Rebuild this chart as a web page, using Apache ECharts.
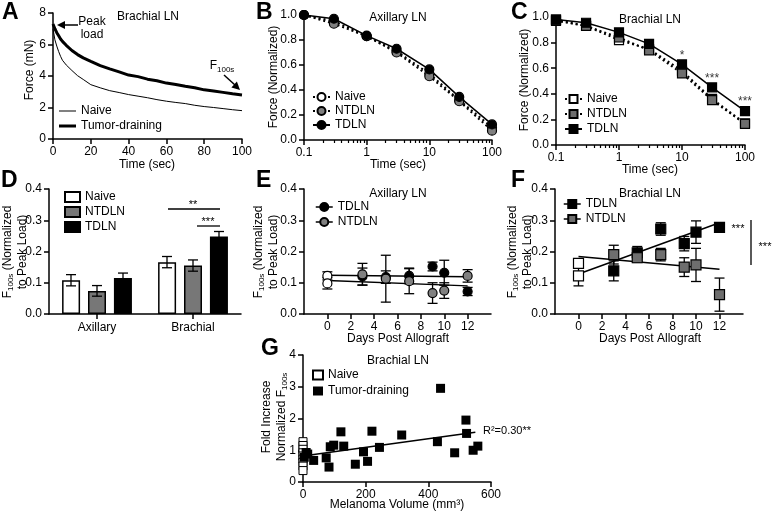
<!DOCTYPE html>
<html>
<head>
<meta charset="utf-8">
<script src="https://cdn.jsdelivr.net/npm/echarts@6/dist/echarts.min.js"></script>
<style>
  html, body { margin: 0; padding: 0; background: #fff; }
  #chart { width: 773px; height: 512px; }
</style>
</head>
<body>
<div id="chart"></div>
<script>
const FONT = '"Liberation Sans", Arial, Helvetica, sans-serif';

// A: raw force relaxation (mN)
const timeA = [0, 1, 2, 3, 4, 5, 7, 10, 13, 16, 20, 25, 30, 35, 40, 45, 50, 55, 60, 65, 70, 75, 80, 85, 90, 95, 100];
const naiveA = [7.0, 6.3, 5.9, 5.55, 5.25, 5.0, 4.7, 4.35, 4.02, 3.78, 3.45, 3.25, 3.07, 2.95, 2.82, 2.72, 2.62, 2.5, 2.4, 2.32, 2.25, 2.14, 2.06, 2.0, 1.93, 1.86, 1.8];
const tumorA = [7.3, 7.0, 6.75, 6.55, 6.35, 6.2, 5.95, 5.62, 5.36, 5.15, 4.93, 4.66, 4.45, 4.26, 4.06, 3.96, 3.8, 3.7, 3.55, 3.46, 3.35, 3.25, 3.12, 3.05, 2.96, 2.87, 2.8];

// B / C: normalized force vs time (log)
const timesBC = [0.1, 0.3, 1, 3, 10, 30, 100];
const minorLogTicks = [0.2, 0.3, 0.4, 0.5, 0.6, 0.7, 0.8, 0.9, 2, 3, 4, 5, 6, 7, 8, 9, 20, 30, 40, 50, 60, 70, 80, 90];
const naiveB = [1.0, 0.95, 0.83, 0.71, 0.53, 0.32, 0.1];
const ntdlnB = [1.0, 0.93, 0.83, 0.7, 0.51, 0.31, 0.075];
const tdlnB = [1.0, 0.97, 0.835, 0.73, 0.565, 0.345, 0.125];
const naiveC = [0.97, 0.93, 0.82, 0.75, 0.58, 0.36, 0.17];
const ntdlnC = [0.98, 0.93, 0.84, 0.74, 0.56, 0.35, 0.165];
const tdlnC = [0.98, 0.955, 0.88, 0.79, 0.63, 0.45, 0.265];
const starsC = ['*', '***', '***'];
const starTimesC = [10, 30, 100];
const starLevelsC = [0.7, 0.52, 0.34];

// D: F100s bars
const categoriesD = ['Axillary', 'Brachial'];
const naiveD = [0.108, 0.166];
const naiveErrD = [0.018, 0.018];
const ntdlnD = [0.074, 0.155];
const ntdlnErrD = [0.017, 0.018];
const tdlnD = [0.115, 0.248];
const tdlnErrD = [0.016, 0.016];

// E / F: F100s vs days post allograft
const dayTicks = [0, 2, 4, 6, 8, 10, 12];
const daysEF = [3, 5, 7, 9, 10, 12];
const naiveDays = [0, 0];
const fitDays = [0, 12];
const tdlnE = [0.12, 0.118, 0.122, 0.152, 0.132, 0.072];
const tdlnErrE = [0.027, 0.02, 0.025, 0.014, 0.04, 0.013];
const ntdlnE = [0.127, 0.113, 0.105, 0.067, 0.075, 0.122];
const ntdlnErrE = [0.035, 0.075, 0.04, 0.033, 0.025, 0.02];
const naiveE = [0.122, 0.098];
const naiveErrE = [0.013, 0.018];
const tdlnFitE = [0.124, 0.119];
const ntdlnFitE = [0.107, 0.09];

const tdlnF = [0.138, 0.196, 0.272, 0.225, 0.262, 0.277];
const tdlnErrF = [0.032, 0.02, 0.02, 0.023, 0.036, 0.015];
const ntdlnF = [0.19, 0.18, 0.19, 0.15, 0.157, 0.062];
const ntdlnErrF = [0.03, 0.015, 0.02, 0.03, 0.053, 0.053];
const naiveF = [0.162, 0.122];
const naiveErrF = [0.01, 0.032];
const tdlnFitF = [0.128, 0.292];
const ntdlnFitF = [0.184, 0.143];

// G: fold increase vs melanoma volume
const naiveFoldG = [1.27, 1.15, 1.03, 0.92, 0.82, 0.72, 0.62, 0.5, 0.36];
const tumorVolG = [4, 10, 15, 34, 74, 83, 87, 98, 121, 130, 167, 193, 206, 220, 244, 315, 429, 439, 484, 520, 522, 543, 558];
const tumorFoldG = [0.78, 0.93, 0.88, 0.68, 0.76, 0.47, 1.11, 1.16, 1.58, 1.13, 0.56, 0.95, 0.65, 1.6, 1.09, 1.48, 1.27, 2.95, 0.92, 1.95, 1.53, 1.0, 1.13];
const fitVolG = [0, 550];
const fitFoldG = [0.82, 1.57];

const zip = (xs, ys) => xs.map((x, i) => [x, ys[i]]);
const zip3 = (xs, ys, es) => xs.map((x, i) => [x, ys[i], es[i]]);

const black = '#000';
const lineW = { color: black, width: 1.5 };

function axis(gridIndex, extra) {
  return Object.assign({
    gridIndex,
    axisLine: { show: true, onZero: false, lineStyle: lineW },
    axisTick: { show: true, inside: false, length: 5, lineStyle: lineW },
    axisLabel: { color: black, fontSize: 12, fontFamily: FONT, margin: 7 },
    splitLine: { show: false }
  }, extra);
}

function errorBars(offset, cap) {
  return function (params, api) {
    const x = api.value(0), y = api.value(1), e = api.value(2);
    const top = api.coord([x, y + e]);
    const bot = api.coord([x, y - e]);
    const cx = top[0] + offset;
    const st = { stroke: black, lineWidth: 1.3 };
    return {
      type: 'group',
      children: [
        { type: 'line', shape: { x1: cx, y1: top[1], x2: cx, y2: bot[1] }, style: st },
        { type: 'line', shape: { x1: cx - cap / 2, y1: top[1], x2: cx + cap / 2, y2: top[1] }, style: st },
        { type: 'line', shape: { x1: cx - cap / 2, y1: bot[1], x2: cx + cap / 2, y2: bot[1] }, style: st }
      ]
    };
  };
}

function errSeries(name, x, y, data, offset, cap) {
  return { name, type: 'custom', xAxisIndex: x, yAxisIndex: y, silent: true, z: 1,
    renderItem: errorBars(offset, cap), data };
}

function fitLine(name, x, y, data) {
  return { name, type: 'line', xAxisIndex: x, yAxisIndex: y, data, symbol: 'none', silent: true, z: 2,
    itemStyle: { color: black }, lineStyle: { color: black, width: 1.5 } };
}

function points(name, x, y, data, symbol, size, fill, extra) {
  return Object.assign({ name, type: 'line', xAxisIndex: x, yAxisIndex: y, data, symbol, symbolSize: size,
    showSymbol: true, z: 3,
    itemStyle: { color: fill, borderColor: black, borderWidth: 1.2, opacity: 1 },
    lineStyle: { color: black, width: 1.5, opacity: 0 } }, extra);
}

const rich = {
  n: { fontSize: 12, fontFamily: FONT, lineHeight: 15, color: black },
  s: { fontSize: 8, fontFamily: FONT, lineHeight: 8, verticalAlign: 'bottom', color: black }
};

function text(x, y, str, opts) {
  return Object.assign({ type: 'text', x, y, silent: true,
    style: Object.assign({ text: str, fill: black, font: '12px ' + FONT, align: 'center', verticalAlign: 'middle' },
      opts && opts.style) }, opts && opts.el);
}

function vtext(x, y, str) {
  return { type: 'text', x, y, rotation: Math.PI / 2, silent: true,
    style: { text: str, rich, fill: black, align: 'center', verticalAlign: 'middle' } };
}

const letters = [['A', 2, 1], ['B', 256, 1], ['C', 511, 1], ['D', 1, 169], ['E', 256, 169], ['F', 511, 169], ['G', 261, 337]]
  .map(([l, x, y]) => text(x, y, l, { style: { font: 'bold 23px ' + FONT, align: 'left', verticalAlign: 'top' } }));

const legendBase = {
  orient: 'vertical', selectedMode: false, itemWidth: 17, itemHeight: 10, itemGap: 1, padding: 0,
  textStyle: { color: black, fontSize: 12, fontFamily: FONT, lineHeight: 14 },
  formatter: n => n.slice(2)
};
const legendLine = { width: 1.5, color: black, opacity: 1, type: 'solid' };

const option = {
  animation: false,
  backgroundColor: '#fff',
  textStyle: { fontFamily: FONT, color: black },
  grid: [
    { left: 53, top: 13, width: 189, height: 126, outerBoundsMode: 'none' },
    { left: 304, top: 15, width: 188, height: 125, outerBoundsMode: 'none' },
    { left: 556, top: 17, width: 189, height: 128, outerBoundsMode: 'none' },
    { left: 49, top: 189, width: 192, height: 125, outerBoundsMode: 'none' },
    { left: 304, top: 189, width: 187, height: 125, outerBoundsMode: 'none' },
    { left: 555, top: 189, width: 188, height: 125, outerBoundsMode: 'none' },
    { left: 303, top: 355, width: 188, height: 127, outerBoundsMode: 'none' }
  ],
  xAxis: [
    axis(0, { type: 'value', min: 0, max: 100, interval: 20 }),
    axis(1, { type: 'log', logBase: 10, min: 0.1, max: 100, position: 'bottom' }),
    axis(1, { type: 'log', logBase: 10, min: 0.1, max: 100, position: 'bottom',
      axisLine: { show: false }, axisLabel: { show: false },
      axisTick: { show: true, length: 3, lineStyle: { color: black, width: 1.2 }, customValues: minorLogTicks } }),
    axis(2, { type: 'log', logBase: 10, min: 0.1, max: 100, position: 'bottom' }),
    axis(2, { type: 'log', logBase: 10, min: 0.1, max: 100, position: 'bottom',
      axisLine: { show: false }, axisLabel: { show: false },
      axisTick: { show: true, length: 3, lineStyle: { color: black, width: 1.2 }, customValues: minorLogTicks } }),
    axis(3, { type: 'category', data: categoriesD,
      axisTick: { show: true, alignWithLabel: true, length: 5, lineStyle: lineW },
      axisLabel: { color: black, fontSize: 12, fontFamily: FONT, margin: 8 } }),
    axis(4, { type: 'value', min: -2, max: 14, interval: 2,
      axisTick: { show: true, length: 5, lineStyle: lineW, customValues: dayTicks },
      axisLabel: { color: black, fontSize: 12, fontFamily: FONT, margin: 7, customValues: dayTicks,
        formatter: v => (v < 0 || v > 12) ? '' : String(v) } }),
    axis(5, { type: 'value', min: -2, max: 14, interval: 2,
      axisTick: { show: true, length: 5, lineStyle: lineW, customValues: dayTicks },
      axisLabel: { color: black, fontSize: 12, fontFamily: FONT, margin: 7, customValues: dayTicks,
        formatter: v => (v < 0 || v > 12) ? '' : String(v) } }),
    axis(6, { type: 'value', min: 0, max: 600, interval: 200 })
  ],
  yAxis: [
    axis(0, { type: 'value', min: 0, max: 8, interval: 2 }),
    axis(1, { type: 'value', min: 0, max: 1, interval: 0.2, axisLabel: { color: black, fontSize: 12, fontFamily: FONT, margin: 7, formatter: v => v.toFixed(1) } }),
    axis(2, { type: 'value', min: 0, max: 1, interval: 0.2, axisLabel: { color: black, fontSize: 12, fontFamily: FONT, margin: 7, formatter: v => v.toFixed(1) } }),
    axis(3, { type: 'value', min: 0, max: 0.4, interval: 0.1, axisLabel: { color: black, fontSize: 12, fontFamily: FONT, margin: 7, formatter: v => v.toFixed(1) } }),
    axis(4, { type: 'value', min: 0, max: 0.4, interval: 0.1, axisLabel: { color: black, fontSize: 12, fontFamily: FONT, margin: 7, formatter: v => v.toFixed(1) } }),
    axis(5, { type: 'value', min: 0, max: 0.4, interval: 0.1, axisLabel: { color: black, fontSize: 12, fontFamily: FONT, margin: 7, formatter: v => v.toFixed(1) } }),
    axis(6, { type: 'value', min: 0, max: 4, interval: 1 })
  ],
  legend: [
    Object.assign({}, legendBase, { left: 59, top: 104, icon: 'rect', itemHeight: 1, data: ['A:Naive'] }),
    Object.assign({}, legendBase, { left: 59, top: 119, icon: 'rect', itemHeight: 3, data: ['A:Tumor-draining'] }),
    Object.assign({}, legendBase, { left: 312, top: 90, itemGap: 0, data: ['B:Naive', 'B:NTDLN', 'B:TDLN'] }),
    Object.assign({}, legendBase, { left: 564, top: 92, data: ['C:Naive', 'C:NTDLN', 'C:TDLN'] }),
    Object.assign({}, legendBase, { left: 64, top: 190, itemWidth: 15, icon: 'rect', data: ['D:Naive', 'D:NTDLN', 'D:TDLN'] }),
    Object.assign({}, legendBase, { left: 315, top: 200, lineStyle: legendLine, data: ['E:TDLN', 'E:NTDLN'] }),
    Object.assign({}, legendBase, { left: 563, top: 197, lineStyle: legendLine, data: ['F:TDLN', 'F:NTDLN'] }),
    Object.assign({}, legendBase, { left: 312, top: 368, itemWidth: 10, itemHeight: 9, itemGap: 2, data: ['G:Naive', 'G:Tumor-draining'] })
  ],
  series: [
    // A
    { name: 'A:Naive', type: 'line', xAxisIndex: 0, yAxisIndex: 0, data: zip(timeA, naiveA), symbol: 'none',
      itemStyle: { color: black }, lineStyle: { color: black, width: 1 } },
    { name: 'A:Tumor-draining', type: 'line', xAxisIndex: 0, yAxisIndex: 0, data: zip(timeA, tumorA), symbol: 'none',
      itemStyle: { color: black }, lineStyle: { color: black, width: 3 } },
    // B
    points('B:Naive', 1, 1, zip(timesBC, naiveB), 'circle', 9, '#fff', { lineStyle: { color: black, width: 2, type: [2, 3] } }),
    points('B:NTDLN', 1, 1, zip(timesBC, ntdlnB), 'circle', 9, '#808080', { lineStyle: { color: black, width: 2, type: [2, 3] } }),
    points('B:TDLN', 1, 1, zip(timesBC, tdlnB), 'circle', 9, black, { lineStyle: { color: black, width: 1.5 } }),
    // C
    points('C:Naive', 3, 2, zip(timesBC, naiveC), 'rect', 9, '#fff', { lineStyle: { color: black, width: 2, type: [2, 3] } }),
    points('C:NTDLN', 3, 2, zip(timesBC, ntdlnC), 'rect', 9, '#6e6e6e', { lineStyle: { color: black, width: 2, type: [2, 3] } }),
    points('C:TDLN', 3, 2, zip(timesBC, tdlnC), 'rect', 9, black, { lineStyle: { color: black, width: 1.5 } }),
    { name: 'C:stars', type: 'scatter', xAxisIndex: 3, yAxisIndex: 2, symbolSize: 1, silent: true,
      itemStyle: { color: 'transparent' },
      label: { show: true, position: 'inside', formatter: '{b}', color: black, fontSize: 12, fontFamily: FONT },
      data: starTimesC.map((t, i) => ({ name: starsC[i], value: [t, starLevelsC[i]] })) },
    // D
    { name: 'D:Naive', type: 'bar', xAxisIndex: 5, yAxisIndex: 3, data: naiveD, barWidth: 18, barGap: '44%',
      itemStyle: { color: '#fff', borderColor: black, borderWidth: 1.5 } },
    { name: 'D:NTDLN', type: 'bar', xAxisIndex: 5, yAxisIndex: 3, data: ntdlnD, barWidth: 18, barGap: '44%',
      itemStyle: { color: '#777', borderColor: black, borderWidth: 1.5 } },
    { name: 'D:TDLN', type: 'bar', xAxisIndex: 5, yAxisIndex: 3, data: tdlnD, barWidth: 18, barGap: '44%',
      itemStyle: { color: black, borderColor: black, borderWidth: 1.5 } },
    Object.assign(errSeries('D:errN', 5, 3, zip3([0, 1], naiveD, naiveErrD), -26, 10), { z: 4 }),
    Object.assign(errSeries('D:errNT', 5, 3, zip3([0, 1], ntdlnD, ntdlnErrD), 0, 10), { z: 4 }),
    Object.assign(errSeries('D:errT', 5, 3, zip3([0, 1], tdlnD, tdlnErrD), 26, 10), { z: 4 }),
    // E
    errSeries('E:errT', 6, 4, zip3(daysEF, tdlnE, tdlnErrE), 0, 10),
    errSeries('E:errNT', 6, 4, zip3(daysEF, ntdlnE, ntdlnErrE), 0, 10),
    errSeries('E:errN', 6, 4, zip3(naiveDays, naiveE, naiveErrE), 0, 10),
    fitLine('E:fitT', 6, 4, zip(fitDays, tdlnFitE)),
    fitLine('E:fitNT', 6, 4, zip(fitDays, ntdlnFitE)),
    points('E:Naive', 6, 4, zip(naiveDays, naiveE), 'circle', 9, '#fff'),
    points('E:TDLN', 6, 4, zip(daysEF, tdlnE), 'circle', 9, black),
    points('E:NTDLN', 6, 4, zip(daysEF, ntdlnE), 'circle', 9, '#808080'),
    // F
    errSeries('F:errT', 7, 5, zip3(daysEF, tdlnF, tdlnErrF), 0, 10),
    errSeries('F:errNT', 7, 5, zip3(daysEF, ntdlnF, ntdlnErrF), 0, 10),
    errSeries('F:errN', 7, 5, zip3(naiveDays, naiveF, naiveErrF), 0, 10),
    fitLine('F:fitT', 7, 5, zip(fitDays, tdlnFitF)),
    fitLine('F:fitNT', 7, 5, zip(fitDays, ntdlnFitF)),
    points('F:Naive', 7, 5, zip(naiveDays, naiveF), 'rect', 10, '#fff'),
    points('F:TDLN', 7, 5, zip(daysEF, tdlnF), 'rect', 10, black),
    points('F:NTDLN', 7, 5, zip(daysEF, ntdlnF), 'rect', 10, '#6e6e6e'),
    // G
    fitLine('G:fit', 8, 6, zip(fitVolG, fitFoldG)),
    { name: 'G:Naive', type: 'scatter', xAxisIndex: 8, yAxisIndex: 6, symbol: 'rect', symbolSize: 8, z: 3,
      itemStyle: { color: '#fff', borderColor: black, borderWidth: 1, opacity: 1 },
      data: naiveFoldG.map(v => [0, v]) },
    { name: 'G:Tumor-draining', type: 'scatter', xAxisIndex: 8, yAxisIndex: 6, symbol: 'rect', symbolSize: 9, z: 3,
      itemStyle: { color: black, opacity: 1 },
      data: zip(tumorVolG, tumorFoldG) }
  ],
  graphic: [
    ...letters,
    // titles
    text(148, 17, 'Brachial LN'),
    text(398, 18, 'Axillary LN'),
    text(650, 20, 'Brachial LN'),
    text(398, 194, 'Axillary LN'),
    text(650, 194, 'Brachial LN'),
    text(398, 361, 'Brachial LN'),
    // x axis names
    text(147, 165, 'Time (sec)'),
    text(398, 165, 'Time (sec)'),
    text(650, 170, 'Time (sec)'),
    text(398, 339, 'Days Post Allograft'),
    text(650, 339, 'Days Post Allograft'),
    text(397, 505, 'Melanoma Volume (mm³)'),
    // y axis names
    vtext(30, 70, '{n|Force (mN)}'),
    vtext(274, 77, '{n|Force (Normalized)}'),
    vtext(525, 80, '{n|Force (Normalized)}'),
    vtext(15, 252, '{n|F}{s|100s}{n| (Normalized}\n{n|to Peak Load)}'),
    vtext(266, 252, '{n|F}{s|100s}{n| (Normalized}\n{n|to Peak Load)}'),
    vtext(520, 252, '{n|F}{s|100s}{n| (Normalized}\n{n|to Peak Load)}'),
    vtext(274, 417, '{n|Fold Increase}\n{n|Normalized F}{s|100s}'),
    // A annotations
    text(92, 22, 'Peak'),
    text(92, 35, 'load'),
    { type: 'line', silent: true, shape: { x1: 78, y1: 25, x2: 63, y2: 25 }, style: { stroke: black, lineWidth: 1.5 } },
    { type: 'polygon', silent: true, shape: { points: [[57, 25], [65, 21], [65, 29]] }, style: { fill: black } },
    { type: 'text', x: 222, y: 66, silent: true,
      style: { text: '{n|F}{s|100s}', rich, align: 'center', verticalAlign: 'middle' } },
    { type: 'line', silent: true, shape: { x1: 224, y1: 75, x2: 235, y2: 85 }, style: { stroke: black, lineWidth: 1.5 } },
    { type: 'polygon', silent: true, shape: { points: [[240, 90], [231.4, 87.4], [236.9, 81.6]] }, style: { fill: black } },
    // D significance
    { type: 'line', silent: true, shape: { x1: 168, y1: 209, x2: 220, y2: 209 }, style: { stroke: black, lineWidth: 1.3 } },
    text(193, 205, '**', { style: { font: '11px ' + FONT } }),
    { type: 'line', silent: true, shape: { x1: 197, y1: 226, x2: 220, y2: 226 }, style: { stroke: black, lineWidth: 1.3 } },
    text(208, 222, '***', { style: { font: '11px ' + FONT } }),
    // F significance
    text(738, 229, '***', { style: { font: '11px ' + FONT } }),
    { type: 'line', silent: true, shape: { x1: 751, y1: 220, x2: 751, y2: 265 }, style: { stroke: black, lineWidth: 1.3 } },
    text(765, 247, '***', { style: { font: '11px ' + FONT } }),
    // G regression label
    text(483, 431, 'R²=0.30**', { style: { font: '11px ' + FONT, align: 'left' } })
  ]
};

const chart = echarts.init(document.getElementById('chart'));
chart.setOption(option);
</script>
</body>
</html>
